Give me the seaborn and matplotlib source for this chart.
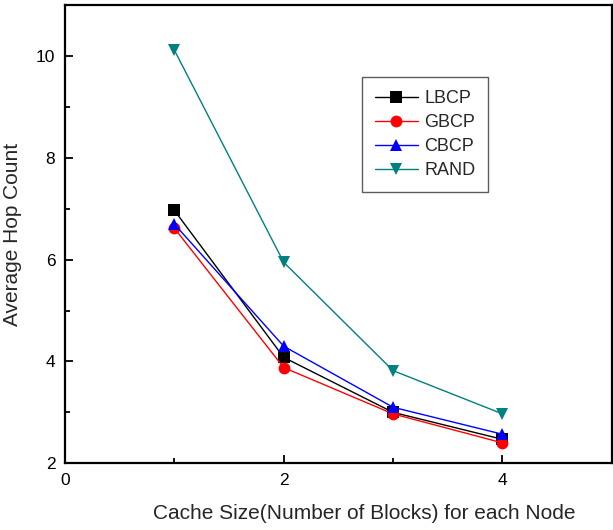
import matplotlib
matplotlib.use("Agg")
import matplotlib.pyplot as plt
import seaborn as sns
import pandas as pd
from matplotlib.ticker import MultipleLocator

cache_size = [1, 2, 3, 4]
lbcp = [6.97, 4.08, 3.00, 2.47]
gbcp = [6.62, 3.88, 2.97, 2.40]
cbcp = [6.70, 4.30, 3.10, 2.57]
rand = [10.12, 5.95, 3.82, 2.97]

series = ["LBCP", "GBCP", "CBCP", "RAND"]
values = [lbcp, gbcp, cbcp, rand]
colors = ["black", "red", "blue", "#008080"]
markers = ["s", "o", "^", "v"]

rows = []
for name, vals in zip(series, values):
    for x, v in zip(cache_size, vals):
        rows.append({"x": x, "y": v, "series": name})
df = pd.DataFrame(rows)

sns.set_style("ticks")
plt.rcParams["font.family"] = ["Liberation Sans", "DejaVu Sans"]

fig = plt.figure(figsize=(6.13, 5.3), dpi=100)
ax = fig.add_axes([0.106, 0.126, 0.892, 0.864])

sns.lineplot(data=df, x="x", y="y", hue="series", style="series",
             palette=dict(zip(series, colors)),
             markers=dict(zip(series, markers)), dashes=False,
             markersize=8.5, markeredgewidth=0, linewidth=1, ax=ax)

ax.set_xlim(0, 5)
ax.set_ylim(2, 11)
ax.xaxis.set_major_locator(MultipleLocator(2))
ax.xaxis.set_minor_locator(MultipleLocator(1))
ax.yaxis.set_major_locator(MultipleLocator(2))
ax.yaxis.set_minor_locator(MultipleLocator(1))
ax.tick_params(which="both", direction="in", width=1.3, labelsize=12.5,
               colors="black", bottom=True, left=True, top=False, right=False)
ax.tick_params(which="major", length=6, pad=7)
ax.tick_params(which="minor", length=3.5)
for s in ax.spines.values():
    s.set_linewidth(1.6)
    s.set_color("black")

ax.set_xlabel("Cache Size(Number of Blocks) for each Node", fontsize=15, labelpad=14)
ax.xaxis.set_label_coords(0.548, -0.09)
ax.set_ylabel("Average Hop Count", fontsize=15, labelpad=10)

leg = ax.legend(loc="upper left", bbox_to_anchor=(0.543, 0.843), fontsize=13,
                frameon=True, fancybox=False, edgecolor="#333333",
                handlelength=2.4, handletextpad=0.35, borderpad=0.7,
                labelspacing=0.4, borderaxespad=0)
leg.get_frame().set_linewidth(1.0)
leg.set_title(None)
for h in leg.legend_handles:
    h.set_markersize(8.5)
    h.set_markeredgewidth(0)

fig.savefig("out.png", dpi=100)
